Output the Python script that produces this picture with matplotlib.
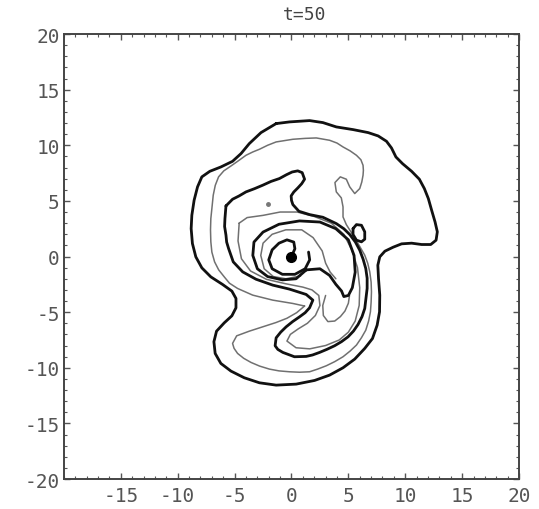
import matplotlib
matplotlib.use("Agg")
import matplotlib.pyplot as plt
from matplotlib.ticker import MultipleLocator

# contour lines (data units)
# level 1, thick, outermost
outer_x = [-1.35, -0.18, 1.59, 2.76, 3.94, 5.41, 6.74, 7.62, 8.35, 8.79, 9.18, 9.76, 10.56, 11.24, 11.68, 12.03,
           12.32, 12.62, 12.82, 12.71, 12.24, 11.44, 10.56, 9.68, 8.94, 8.21, 7.76, 7.59, 7.65, 7.76, 7.74, 7.53,
           7.12, 6.44, 5.56, 4.53, 3.35, 2.03, 0.41, -1.35, -2.82, -4.15, -5.32, -6.21, -6.71, -6.82, -6.59,
           -5.91, -5.24, -4.88, -4.88, -5.24, -6.06, -7.09, -7.88, -8.41, -8.71, -8.82, -8.76, -8.56, -8.26,
           -7.88, -7.18, -6.21, -5.18, -4.44, -3.71, -2.68, -1.35]
outer_y = [11.95, 12.10, 12.22, 12.04, 11.65, 11.41, 11.14, 10.84, 10.36, 9.76, 8.95, 8.35, 7.66, 6.95, 6.11,
           5.21, 4.16, 3.11, 2.22, 1.47, 1.08, 1.08, 1.20, 1.14, 0.84, 0.48, -0.03, -0.78, -1.98, -3.47, -4.97,
           -6.17, -7.37, -8.26, -9.22, -10.0, -10.66, -11.14, -11.47, -11.56, -11.35, -10.90, -10.30, -9.61,
           -8.71, -7.66, -6.71, -5.96, -5.33, -4.61, -3.77, -3.11, -2.51, -1.83, -1.02, -0.03, 1.17, 2.51, 3.71,
           5.06, 6.26, 7.16, 7.66, 8.05, 8.56, 9.25, 10.15, 11.14, 11.95]

# level 2, thin grey
lev2_x = [1.15, 0.12, -1.65, -3.41, -4.74, -5.45, -5.91, -6.40, -6.76, -7.0, -7.09, -7.12, -7.09, -6.98,
          -6.88, -6.70, -6.41, -5.95, -5.32, -4.65, -4.0, -3.40, -2.82, -2.10, -1.35, 0.12, 1.20, 2.18, 3.35, 4.0,
          4.53, 5.15, 5.71, 6.10, 6.29, 6.32, 6.29, 6.18, 6.0, 5.56, 5.12, 4.82, 4.29, 3.82, 3.94, 4.38, 4.53,
          4.53, 4.82, 5.26, 5.85, 6.44, 6.70, 6.88, 7.0, 7.03, 7.0, 6.94, 6.78, 6.53, 6.15, 5.71, 5.15, 4.53, 3.80,
          3.06, 2.30, 1.59, 0.70, -0.18, -1.10, -1.94, -2.80, -3.56, -4.20, -4.74, -5.05, -5.18, -4.82, -3.71,
          -2.53, -1.35, -0.40, 0.45, 1.15]
lev2_y = [-4.45, -4.22, -3.92, -3.47, -2.87, -2.40, -1.83, -1.20, -0.48, 0.40, 1.32, 2.40, 3.41, 4.50,
          5.51, 6.40, 7.16, 7.70, 8.14, 8.62, 9.10, 9.40, 9.64, 10.0, 10.30, 10.54, 10.62, 10.66, 10.45, 10.20,
          9.85, 9.50, 9.10, 8.70, 8.20, 7.75, 7.31, 6.70, 6.11, 5.66, 6.26, 6.95, 7.16, 6.65, 5.81, 5.27, 4.46,
          3.56, 2.87, 2.16, 1.17, 0.12, -0.60, -1.38, -2.30, -3.17, -4.10, -4.97, -5.80, -6.62, -7.30, -7.96,
          -8.50, -9.01, -9.45, -9.82, -10.12, -10.36, -10.40, -10.36, -10.28, -10.12, -9.85, -9.52, -9.15, -8.71,
          -8.25, -7.81, -7.13, -6.71, -6.32, -5.93, -5.55, -5.05, -4.45]

# level 3, thick
lev3_x = [-5.76, -5.18, -4.60, -4.0, -3.25, -2.53, -1.80, -1.06, -0.45, 0.06, 0.55, 0.94, 1.15, 0.90, 0.56, 0.20,
          -0.03, 0.0, 0.12, 0.65, 1.59, 2.76, 3.94, 4.60, 5.12, 5.62, 6.0, 6.30, 6.53, 6.65, 6.65, 6.44, 6.20,
          5.85, 5.45, 4.97, 4.40, 3.79, 3.10, 2.47, 1.85, 1.29, 0.26, -0.76, -1.20, -1.44, -1.35, -0.95, -0.47,
          0.10, 0.71, 1.20, 1.59, 1.88, 1.29, -0.18, -1.65, -3.12, -4.29, -5.12, -5.53, -5.70, -5.76, -5.88,
          -5.85, -5.76]
lev3_y = [4.55, 5.15, 5.45, 5.81, 6.10, 6.41, 6.75, 7.01, 7.35, 7.60, 7.70, 7.54, 6.95, 6.55, 6.17, 5.80, 5.45,
          5.05, 4.67, 4.07, 3.77, 3.53, 2.96, 2.50, 1.98, 1.30, 0.57, -0.25, -1.08, -1.95, -2.87, -4.67, -5.40,
          -6.11, -6.70, -7.22, -7.65, -8.02, -8.35, -8.62, -8.85, -8.98, -9.01, -8.62, -8.35, -8.02, -7.31,
          -6.80, -6.32, -5.85, -5.42, -5.05, -4.61, -3.92, -3.41, -2.93, -2.57, -2.04, -1.38, -0.48, 0.72, 1.30,
          1.92, 2.70, 3.41, 4.55]

# level 4, thin grey
lev4_x = [-4.6, -3.9, -2.5, -1.0, 0.5, 2.0, 3.5, 4.6, 5.3, 5.8, 6.0, 5.95, 5.6, 5.0, 4.2, 3.0, 1.6, 0.4, -0.4,
          -0.1, 0.6, 1.4, 2.1, 2.5, 2.4, 1.8, 1.0, -0.5, -2.2, -3.6, -4.4, -4.7, -4.6]
lev4_y = [3.0, 3.5, 3.7, 4.0, 4.0, 3.6, 3.0, 2.0, 0.6, -1.0, -2.8, -4.4, -5.8, -6.8, -7.5, -8.0, -8.3, -8.2,
          -7.6, -7.0, -6.5, -6.0, -5.3, -4.4, -3.5, -3.0, -2.75, -2.45, -2.05, -1.3, -0.2, 1.4, 3.0]

# grey wiggle inside the lower arm
wig_x = [3.0, 2.75, 2.8, 3.2, 3.8, 4.3, 4.7, 5.0, 5.1]
wig_y = [-3.5, -4.4, -5.3, -5.85, -5.8, -5.4, -4.9, -4.2, -3.5]

# level 5, thick
lev5_x = [1.3, 0.4, -0.8, -2.1, -3.0, -3.4, -3.3, -2.5, -1.1, 0.7, 2.5, 3.9, 5.0, 5.5, 5.6, 5.35, 5.0, 4.6,
          4.4, 3.9, 3.35, 2.5, 1.3]
lev5_y = [-1.2, -2.0, -2.1, -1.8, -1.1, 0.1, 1.3, 2.2, 2.9, 3.2, 3.1, 2.5, 1.5, 0.1, -1.4, -2.8, -3.5, -3.6,
          -3.1, -2.5, -1.7, -1.1, -1.2]

# level 6, thin grey
lev6_x = [0.8, -0.5, -1.6, -2.4, -2.7, -2.5, -1.7, -0.5, 0.9, 1.9, 2.7, 3.0, 3.4, 3.9]
lev6_y = [-1.75, -2.0, -1.8, -1.1, 0.1, 1.2, 2.0, 2.4, 2.4, 1.7, 0.5, -0.6, -1.4, -2.0]

# level 7, thick inner hook
lev7_x = [0.0, 0.3, 0.2, -0.4, -1.1, -1.7, -2.0, -1.7, -0.8, 0.3, 1.2, 1.6, 1.5]
lev7_y = [0.0, 0.7, 1.3, 1.5, 1.2, 0.6, -0.3, -1.1, -1.6, -1.6, -1.1, -0.3, 0.4]

# small closed blob right of the core
blob_x = [5.41, 5.71, 6.15, 6.44, 6.44, 6.15, 5.71, 5.41, 5.41]
blob_y = [2.51, 2.87, 2.81, 2.22, 1.56, 1.32, 1.47, 1.98, 2.51]

core_x = [0.0]
core_y = [0.0]
speck_x = [-2.1]
speck_y = [4.75]

thick = [(outer_x, outer_y), (lev3_x, lev3_y), (lev5_x, lev5_y), (lev7_x, lev7_y), (blob_x, blob_y)]
thin = [(lev2_x, lev2_y), (lev4_x, lev4_y), (lev6_x, lev6_y), (wig_x, wig_y)]

fig = plt.figure(figsize=(5.39, 5.10), dpi=100)
ax = fig.add_axes([0.1187, 0.0588, 0.8442, 0.8725])

for xs, ys in thin:
    ax.plot(xs, ys, color="#707070", lw=1.1, solid_joinstyle="round", solid_capstyle="round")
for xs, ys in thick:
    ax.plot(xs, ys, color="#111111", lw=2.0, solid_joinstyle="round", solid_capstyle="round")
ax.plot(core_x, core_y, "o", color="black", ms=7)
ax.plot(speck_x, speck_y, "o", color="#777777", ms=2.5)

ax.set_xlim(-20, 20)
ax.set_ylim(-20, 20)

mono = "DejaVu Sans Mono"
ax.xaxis.set_minor_locator(MultipleLocator(1))
ax.yaxis.set_minor_locator(MultipleLocator(1))
ax.tick_params(which="both", direction="in", top=True, right=True, colors="#555555",
               labelcolor="#555555", labelsize=14)
ax.tick_params(which="major", length=4, width=1)
ax.tick_params(which="minor", length=2, width=0.8)
ax.tick_params(axis="x", pad=5)
ax.tick_params(axis="y", pad=3)
xt = [-15, -10, -5, 0, 5, 10, 15, 20]
ax.set_xticks(xt)
ax.set_xticklabels([str(v) for v in xt], family=mono)
yt = [-20, -15, -10, -5, 0, 5, 10, 15, 20]
ax.set_yticks(yt)
ax.set_yticklabels([str(v) for v in yt], family=mono)
for s in ax.spines.values():
    s.set_color("#444444")
    s.set_linewidth(1.4)

fig.text(305 / 539, 1 - 15 / 510, "t=50", family=mono, fontsize=13, color="#444444",
         ha="center", va="center")

fig.savefig("out.png", dpi=100)
